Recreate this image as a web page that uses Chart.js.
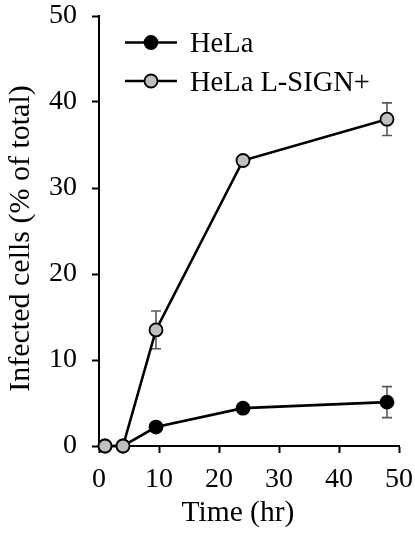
<!DOCTYPE html>
<html>
<head>
<meta charset="utf-8">
<script src="https://cdn.jsdelivr.net/npm/chart.js@4"></script>
<style>
  html, body { margin: 0; padding: 0; background: #fff; }
  #wrap { width: 415px; height: 533px; }
</style>
</head>
<body>
<div id="wrap"><canvas id="infChart"></canvas></div>
<script>
// time points (hr)
var timeHr = [1, 4, 9.5, 24, 48];
// % infected cells
var helaVals = [0, 0, 2.2, 4.4, 5.1];
var helaErr = [0, 0, 0, 0, 1.8];
var lsignVals = [0, 0, 13.5, 33.2, 38.0];
var lsignErr = [0, 0, 2.2, 0, 1.9];
var seriesNames = ['HeLa', 'HeLa L-SIGN+'];
var xTicks = [0, 10, 20, 30, 40, 50];
var yTicks = [0, 10, 20, 30, 40, 50];

var serif = "'Liberation Serif', 'Times New Roman', serif";

function toPoints(xs, ys, errs) {
    var out = [];
    for (var i = 0; i < xs.length; i++) {
        out.push({x: xs[i], y: ys[i], err: errs[i]});
    }
    return out;
}

// error bars, drawn under the markers
var errorBars = {
    id: 'errorBars',
    beforeDatasetsDraw: function (chart) {
        var ctx = chart.ctx;
        var ys = chart.scales.y, xs = chart.scales.x;
        ctx.save();
        ctx.strokeStyle = '#595959';
        ctx.lineWidth = 1.6;
        chart.data.datasets.forEach(function (ds) {
            ds.data.forEach(function (p) {
                if (!p.err) return;
                var px = xs.getPixelForValue(p.x);
                var top = ys.getPixelForValue(p.y + p.err);
                var bot = ys.getPixelForValue(p.y - p.err);
                ctx.beginPath();
                ctx.moveTo(px, top); ctx.lineTo(px, bot);
                ctx.moveTo(px - 5, top); ctx.lineTo(px + 5, top);
                ctx.moveTo(px - 5, bot); ctx.lineTo(px + 5, bot);
                ctx.stroke();
            });
        });
        ctx.restore();
    }
};

// legend with line + marker, placed inside the plot
var lineLegend = {
    id: 'lineLegend',
    afterDraw: function (chart) {
        var ctx = chart.ctx;
        ctx.save();
        seriesNames.forEach(function (name, i) {
            var ds = chart.data.datasets.filter(function (d) { return d.label === name; })[0];
            var y = 42.5 + i * 38.5;
            ctx.strokeStyle = '#000';
            ctx.lineWidth = ds.borderWidth;
            ctx.beginPath();
            ctx.moveTo(125, y); ctx.lineTo(177, y);
            ctx.stroke();
            ctx.beginPath();
            ctx.arc(151, y, ds.pointRadius, 0, Math.PI * 2);
            ctx.fillStyle = ds.pointBackgroundColor;
            ctx.fill();
            ctx.lineWidth = ds.pointBorderWidth;
            ctx.strokeStyle = ds.pointBorderColor;
            ctx.stroke();
            ctx.fillStyle = '#000';
            ctx.font = '28.5px ' + serif;
            ctx.textBaseline = 'alphabetic';
            ctx.fillText(name, 190, y + 9.5);
        });
        ctx.restore();
    }
};

var ctxEl = document.getElementById('infChart');

new Chart(ctxEl, {
    type: 'scatter',
    data: {
        datasets: [
            {
                label: seriesNames[0],
                data: toPoints(timeHr, helaVals, helaErr),
                showLine: true,
                borderColor: '#000',
                borderWidth: 2.6,
                pointRadius: 6.5,
                pointBackgroundColor: '#000',
                pointBorderColor: '#000',
                pointBorderWidth: 1.8,
                order: 2
            },
            {
                label: seriesNames[1],
                data: toPoints(timeHr, lsignVals, lsignErr),
                showLine: true,
                borderColor: '#000',
                borderWidth: 2.6,
                pointRadius: 6.5,
                pointBackgroundColor: '#bfbfbf',
                pointBorderColor: '#000',
                pointBorderWidth: 1.8,
                order: 1
            }
        ]
    },
    options: {
        responsive: true,
        maintainAspectRatio: false,
        animation: false,
        clip: false,
        layout: { padding: { left: 0, top: 16, right: 16, bottom: 0 } },
        plugins: {
            legend: { display: false },
            tooltip: { enabled: false }
        },
        scales: {
            x: {
                type: 'linear',
                min: 0,
                max: 50,
                afterBuildTicks: function (scale) {
                    scale.ticks = xTicks.map(function (v) { return {value: v}; });
                },
                afterFit: function (scale) {
                    scale.height = 87;
                    scale.paddingLeft = 0; scale.paddingRight = 0;
                },
                ticks: {
                    color: '#000',
                    font: { family: serif, size: 28 },
                    padding: 10,
                    maxRotation: 0
                },
                grid: {
                    drawOnChartArea: false,
                    drawTicks: true,
                    tickLength: 7,
                    tickColor: '#000',
                    tickWidth: 2
                },
                border: { display: true, color: '#000', width: 2 },
                title: {
                    display: true,
                    text: 'Time (hr)   ',
                    color: '#000',
                    font: { family: serif, size: 29.5 },
                    padding: { top: 0, bottom: 2 }
                }
            },
            y: {
                type: 'linear',
                min: 0,
                max: 50,
                afterBuildTicks: function (scale) {
                    scale.ticks = yTicks.map(function (v) { return {value: v}; });
                },
                afterFit: function (scale) {
                    scale.width = 99;
                    scale.paddingTop = 0; scale.paddingBottom = 0;
                },
                ticks: {
                    color: '#000',
                    font: { family: serif, size: 28 },
                    padding: 15
                },
                grid: {
                    drawOnChartArea: false,
                    drawTicks: true,
                    tickLength: 7,
                    tickColor: '#000',
                    tickWidth: 2
                },
                border: { display: true, color: '#000', width: 2 },
                title: {
                    display: true,
                    text: 'Infected cells (% of total)  ',
                    color: '#000',
                    font: { family: serif, size: 30 },
                    padding: { top: 3, bottom: 0 }
                }
            }
        }
    },
    plugins: [errorBars, lineLegend]
});
</script>
</body>
</html>
